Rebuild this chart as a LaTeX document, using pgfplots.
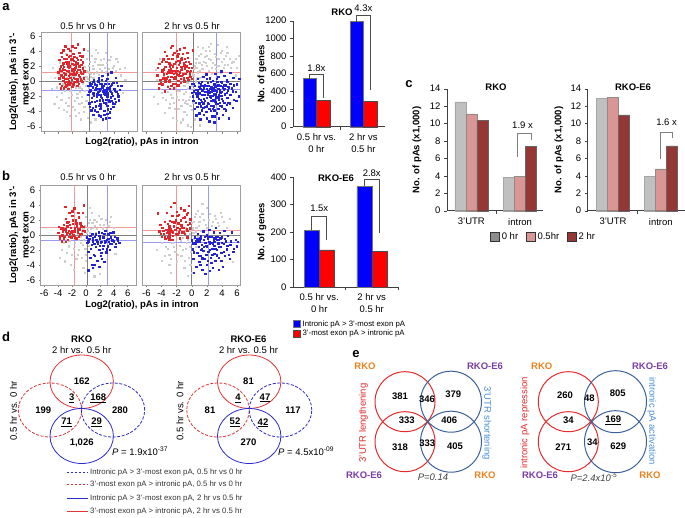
\documentclass[border=0pt]{standalone}
\usepackage{fontspec}
\setmainfont{Liberation Sans}
\usepackage{pgfplots}
\pgfplotsset{compat=1.18}
\definecolor{sred}{HTML}{E3262B}
\definecolor{sblue}{HTML}{2222D6}
\definecolor{sgray}{HTML}{CDCDCD}
\definecolor{lred}{HTML}{F29A9A}
\definecolor{lblue}{HTML}{9A9AF2}
\definecolor{cgray}{HTML}{C0C0C0}
\definecolor{cpink}{HTML}{D99694}
\definecolor{cdark}{HTML}{953735}
\definecolor{dred}{HTML}{E03535}
\definecolor{dblue}{HTML}{2C2CCC}
\definecolor{ered}{HTML}{E52A2A}
\definecolor{eblue}{HTML}{3C619B}
\definecolor{elblue}{HTML}{4A8FD6}
\definecolor{eorange}{HTML}{E8821E}
\definecolor{epurple}{HTML}{7A3EA6}
\pgfplotsset{
 /pgf/number format/assume math mode=true,
 /pgf/number format/1000 sep={},
 sc/.style={scale only axis, anchor=south west, width=96pt, height=99pt,
   xmin=-6.5, xmax=7.3, ymin=-6.66, ymax=6.4,
   xtick={-6,-4,...,6}, ytick={-6,-4,...,6},
   tick align=outside, tick pos=left, major tick length=2pt,
   tick style={gray, line width=0.4pt},
   axis line style={gray!75, line width=0.7pt},
   tick label style={font=\fontsize{9.5}{10}\selectfont},
   xticklabel style={yshift=1pt}},
 gpt/.style={only marks, mark=square*, mark size=0.6pt, color=sgray},
 rpt/.style={only marks, mark=square*, mark size=0.7pt, color=sred},
 bpt/.style={only marks, mark=square*, mark size=0.7pt, color=sblue},
 rl/.style={lred, line width=0.5pt},
 bl/.style={lblue, line width=0.5pt},
 gl/.style={gray, line width=0.5pt},
 br/.style={scale only axis, anchor=south west, ymin=0,
   axis x line*=bottom, axis y line*=left,
   axis line style={black!75, line width=0.6pt},
   tick align=outside, major tick length=3pt, tick style={black!75},
   xtick={0,1}, xtick style={draw=none},
   extra x ticks={0.5,1.5}, extra x tick labels={},
   extra x tick style={xtick style={draw=black!75}},
   xticklabel style={align=center, font=\fontsize{9.5}{12}\selectfont},
   yticklabel style={font=\fontsize{9.5}{10}\selectfont},
   clip=false},
}
\tikzset{T/.style={inner sep=0pt, font=\fontsize{9.5}{11}\selectfont},
 B/.style={inner sep=0pt, font=\fontsize{9.5}{12.5}\selectfont\bfseries},
 S/.style={inner sep=0pt, font=\fontsize{7.8}{9}\selectfont, text=black!80},
 L/.style={inner sep=0pt, font=\fontsize{13}{14}\selectfont\bfseries},
 brk/.style={gray!60!black, line width=0.7pt}}
\begin{document}
\begin{tikzpicture}
\path[use as bounding box] (0,0) rectangle (685pt,-517pt);

% ---------------- panel a scatter 1
\begin{axis}[sc, at={(41pt,-131.7pt)}, xticklabels={}]
\addplot[gpt] coordinates {(-5.0,-1.0)(-4.5,0.5)(-4.3,-2.0)(-4.0,-3.5)(-3.8,2.5)(-3.5,-1.5)(-3.0,-2.8)(-3.0,3.6)(-2.8,-4.0)(-2.5,-2.2)(-2.3,-1.2)(-2.0,-3.4)(-2.0,0.8)(-1.8,-0.6)(-1.6,-2.6)(-1.5,-4.5)(-1.3,-1.6)(-1.2,0.2)(-1.0,-0.8)(-1.0,-3.0)(-0.8,1.0)(-0.7,-2.0)(-0.5,-0.3)(-0.5,2.4)(-0.4,-4.0)(-0.3,0.6)(-0.2,-1.3)(0.0,1.4)(0.0,-2.6)(0.1,3.0)(0.2,0.3)(0.3,-0.8)(0.4,2.0)(0.5,-3.4)(0.6,1.0)(0.7,-0.3)(0.8,3.4)(1.0,1.6)(1.0,0.5)(1.2,2.6)(1.3,-5.0)(1.5,1.2)(1.6,3.8)(1.8,0.9)(2.0,2.2)(2.2,1.4)(2.5,3.0)(2.6,1.8)(3.0,2.4)(3.2,1.6)(3.5,3.2)(4.0,2.0)(4.2,1.4)(4.5,2.6)(5.0,0.8)(5.2,-1.5)(5.5,1.8)(-0.6,-1.0)(-1.4,-0.2)(0.4,-0.1)(-0.9,0.5)(0.9,-1.9)(-2.7,-0.8)(0.2,-4.8)(-3.2,-3.8)(1.4,4.2)(-0.2,0.1)(0.6,-0.6)(-1.6,0.7)(1.2,-0.2)(-0.3,1.9)(2.2,0.6)(-4.8,1.8)(-4.6,-3.0)(-4.2,-0.8)(-3.9,0.9)(-3.6,-2.4)(-3.3,-0.4)(-3.1,-1.2)(-2.8,0.4)(-2.6,-3.2)(-2.4,-4.6)(-2.1,-1.8)(-1.9,-0.2)(-1.7,-3.8)(-1.5,-0.8)(-1.3,-2.2)(-1.1,-4.2)(-0.9,-1.4)(-0.7,0.2)(-0.6,-2.8)(-0.4,1.2)(-0.3,-3.4)(-0.1,-0.6)(0.0,0.6)(0.1,-1.8)(0.3,1.2)(0.5,2.6)(0.7,0.6)(0.9,2.0)(1.1,1.0)(1.3,3.0)(1.6,2.2)(1.9,1.6)(2.1,2.8)(2.4,2.2)(2.8,1.2)(3.3,2.8)(3.8,1.8)(4.3,3.0)(4.8,1.6)(5.6,0.2)(0.6,-5.4)(-0.8,-5.0)(2.8,3.8)(0.2,4.0)};
\addplot[rl] coordinates {(-2.1,-6.66)(-2.1,6.4)};
\addplot[rl] coordinates {(-6.5,1.12)(7.3,1.12)};
\addplot[bl] coordinates {(3.0,-6.66)(3.0,6.4)};
\addplot[bl] coordinates {(-6.5,-1.16)(7.3,-1.16)};
\addplot[gl] coordinates {(0.5,-6.66)(0.5,6.4)};
\addplot[gl] coordinates {(-6.5,0)(7.3,0)};
\addplot[rpt] coordinates {(-4.0,1.2)(-3.9,0.4)(-3.8,-0.3)(-3.7,2.0)(-3.6,0.8)(-3.5,-0.6)(-3.4,1.6)(-3.3,0.1)(-3.3,2.4)(-3.2,-0.9)(-3.2,0.6)(-3.2,1.1)(-3.2,1.9)(-3.2,3.0)(-3.1,-0.2)(-3.0,4.6)(-3.0,0.9)(-2.9,2.6)(-2.9,-0.5)(-2.8,1.4)(-2.8,3.5)(-2.7,0.3)(-2.6,-1.0)(-2.6,2.1)(-2.5,0.0)(-2.5,0.7)(-2.5,1.3)(-2.5,1.8)(-2.5,2.5)(-2.5,3.2)(-2.4,-0.4)(-2.3,4.0)(-2.2,1.0)(-2.2,2.9)(-2.1,0.2)(-2.0,1.6)(-2.0,-0.7)(-1.9,3.6)(-1.8,0.5)(-1.8,1.2)(-1.8,2.2)(-1.8,2.7)(-1.7,-0.1)(-1.6,4.4)(-1.6,1.8)(-1.5,0.9)(-1.4,3.1)(-1.3,0.3)(-1.3,2.4)(-1.2,1.5)(-1.1,-0.3)(-1.0,2.0)(-1.0,3.8)(-0.9,0.6)(-0.8,1.2)(-0.8,2.8)(-0.7,0.1)(-0.6,3.3)(-0.5,1.7)(-0.4,0.4)(-1.5,2.5)(-1.2,4.9)(-2.6,4.3)(-3.5,3.2)(-2.0,2.3)(-3.0,0.3)(-2.3,0.5)(-1.4,0.0)(-3.6,1.4)(-2.8,-0.1)(-3.9,2.8)(-3.7,-0.9)(-3.6,3.8)(-3.4,0.5)(-3.4,2.2)(-3.1,1.5)(-3.0,-0.7)(-2.9,3.0)(-2.7,1.9)(-2.7,-0.4)(-2.4,2.0)(-2.4,0.9)(-2.3,3.4)(-2.2,-0.2)(-2.1,1.4)(-2.0,2.9)(-1.9,0.9)(-1.9,-0.4)(-1.7,1.6)(-1.7,3.2)(-1.6,0.3)(-1.5,2.1)(-1.4,1.2)(-1.3,-0.6)(-1.2,2.8)(-1.1,0.8)(-1.0,1.5)(-0.9,3.4)(-0.8,0.3)(-0.7,2.2)(-0.6,1.0)(-0.5,2.5)(-0.4,4.2)(-0.3,1.3)(-3.3,4.1)(-2.0,4.6)(-2.8,2.3)(-3.8,1.6)(-1.2,0.0)(-0.6,-0.1)};
\addplot[bpt] coordinates {(0.2,-0.6)(0.3,-1.8)(0.4,-2.9)(0.5,-0.2)(0.6,-1.2)(0.7,-3.8)(0.8,-2.2)(0.9,-0.8)(1.0,-1.6)(1.0,-4.4)(1.1,0.2)(1.2,-2.7)(1.3,-1.1)(1.4,-3.3)(1.5,-0.5)(1.5,-2.0)(1.6,-4.0)(1.7,-1.4)(1.8,0.4)(1.9,-2.5)(2.0,-0.3)(2.0,-1.0)(2.0,-1.8)(2.0,-3.0)(2.0,-3.6)(2.1,-4.6)(2.2,-2.2)(2.3,0.7)(2.4,-1.3)(2.5,-2.8)(2.5,-0.6)(2.6,-3.9)(2.7,-1.7)(2.8,0.1)(2.9,-2.4)(3.0,-0.9)(3.0,-1.5)(3.0,-2.0)(3.0,-3.2)(3.0,-4.3)(3.1,0.9)(3.2,-0.3)(3.3,-2.7)(3.4,-1.2)(3.5,-3.6)(3.5,-0.6)(3.5,-2.1)(3.6,1.2)(3.7,-1.6)(3.8,-2.9)(3.9,-0.2)(4.0,-1.0)(4.0,-3.0)(4.1,-2.3)(4.2,0.5)(4.3,-1.4)(4.5,-0.6)(4.6,-2.0)(4.8,-1.1)(3.3,-4.8)(2.4,-5.0)(1.8,-3.2)(1.2,-0.4)(0.9,-3.5)(2.8,-4.9)(1.6,-1.0)(2.2,-0.4)(3.4,-0.8)(2.6,-1.2)(0.6,-0.5)(0.4,-1.4)(0.5,-3.4)(0.7,-0.3)(0.8,-2.7)(1.0,-0.1)(1.1,-1.9)(1.2,-3.8)(1.4,-0.9)(1.5,-2.6)(1.6,-1.7)(1.7,0.0)(1.8,-4.5)(1.9,-1.2)(2.1,-2.0)(2.1,-3.3)(2.2,0.2)(2.3,-0.8)(2.4,-2.5)(2.5,-1.6)(2.6,-4.4)(2.7,-0.3)(2.8,-2.9)(2.9,-1.3)(3.0,0.3)(3.1,-1.8)(3.1,-3.7)(3.2,-2.4)(3.3,-0.9)(3.4,-4.1)(3.5,-1.4)(3.6,-2.6)(3.7,-0.4)(3.8,-1.9)(3.9,-3.4)(4.1,-1.2)(4.2,-2.7)(4.4,-0.2)(4.5,-1.7)(4.7,-2.5)(5.0,-0.6)};
\end{axis}

% ---------------- panel a scatter 2
\begin{axis}[sc, at={(142.7pt,-131.7pt)}, width=97.3pt, xmax=6.4, xticklabels={}, ytick=\empty]
\addplot[gpt] coordinates {(-5.0,-2.0)(-4.8,1.5)(-4.5,-3.0)(-4.2,3.0)(-4.0,-1.5)(-3.6,-4.2)(-3.4,-2.4)(-3.0,-3.5)(-2.8,-1.8)(-2.5,-4.8)(-2.4,-2.8)(-2.0,-2.0)(-1.8,-3.6)(-1.6,-1.2)(-1.5,-5.4)(-1.2,-2.4)(-1.0,-4.0)(-0.8,-1.4)(-0.6,-3.0)(-0.5,-5.8)(-0.3,-2.0)(-0.2,0.2)(0.0,-3.8)(0.1,1.0)(0.3,-1.0)(0.4,2.0)(0.5,0.0)(0.6,3.0)(0.8,1.2)(1.0,2.4)(1.0,0.5)(1.2,3.6)(1.4,1.6)(1.5,4.4)(1.6,2.6)(1.8,1.0)(2.0,3.4)(2.0,2.0)(2.2,1.4)(2.4,4.0)(2.5,2.8)(2.7,1.8)(3.0,3.6)(3.0,2.2)(3.2,1.6)(3.5,3.0)(3.6,2.0)(4.0,4.0)(4.0,2.6)(4.2,1.8)(4.5,3.4)(4.8,2.2)(5.0,3.0)(5.2,1.8)(5.5,2.6)(6.0,1.8)(6.2,3.4)(-0.4,0.6)(-1.0,-0.6)(-1.4,0.3)(-2.2,-0.8)(0.2,-0.4)(-0.6,-0.2)(0.9,-0.4)(-0.1,-6.0)(1.1,-5.8)(-2.0,-5.2)(2.5,5.0)(3.4,4.8)(-3.2,-0.6)(4.6,4.6)(0.6,1.8)(1.4,0.6)(2.6,1.0)(-0.8,-2.6)(0.2,-2.8)(3.8,1.2)(5.8,0.8)(-4.6,0.2)(-4.3,-1.0)(-3.9,-2.2)(-3.7,0.6)(-3.2,-1.4)(-2.9,-3.0)(-2.6,-2.2)(-2.3,-3.6)(-1.9,-1.2)(-1.7,-2.4)(-1.4,-3.2)(-1.1,-1.6)(-0.9,-2.8)(-0.7,-4.4)(-0.5,-1.0)(-0.4,-2.4)(-0.2,-3.2)(0.0,-0.6)(0.2,0.8)(0.3,1.6)(0.5,2.4)(0.7,0.4)(0.9,3.4)(1.1,1.4)(1.3,2.2)(1.7,3.2)(1.9,2.4)(2.2,3.0)(2.3,4.6)(2.8,2.4)(3.2,3.2)(3.3,2.0)(3.8,3.8)(4.2,3.0)(4.4,2.2)(4.7,3.8)(5.3,2.4)(5.8,3.0)(0.4,-5.0)(-1.2,-5.0)(0.8,4.6)(1.8,4.0)};
\addplot[rl] coordinates {(-2.1,-6.66)(-2.1,6.4)};
\addplot[rl] coordinates {(-6.5,1.17)(6.4,1.17)};
\addplot[bl] coordinates {(3.2,-6.66)(3.2,6.4)};
\addplot[bl] coordinates {(-6.5,-1.07)(6.4,-1.07)};
\addplot[gl] coordinates {(0.2,-6.66)(0.2,6.4)};
\addplot[gl] coordinates {(-6.5,0)(6.4,0)};
\addplot[rpt] coordinates {(-4.6,0.8)(-4.4,-0.9)(-4.3,2.3)(-4.2,0.2)(-4.0,1.5)(-3.9,-0.4)(-3.8,2.9)(-3.7,0.9)(-3.6,-1.3)(-3.5,1.9)(-3.4,0.4)(-3.3,3.4)(-3.2,-0.7)(-3.1,1.2)(-3.0,2.4)(-3.0,0.0)(-2.9,-1.0)(-2.8,1.6)(-2.8,4.4)(-2.7,0.6)(-2.6,3.0)(-2.5,-0.3)(-2.5,2.0)(-2.4,1.0)(-2.3,3.8)(-2.2,0.3)(-2.2,1.4)(-2.1,2.6)(-2.0,-0.6)(-2.0,0.9)(-2.0,1.8)(-1.9,3.3)(-1.8,0.1)(-1.7,2.2)(-1.6,1.2)(-1.6,4.2)(-1.5,-0.2)(-1.4,0.7)(-1.4,2.9)(-1.3,1.6)(-1.2,3.6)(-1.1,0.4)(-1.0,2.1)(-1.0,1.0)(-0.9,-0.1)(-0.8,2.6)(-0.7,1.3)(-0.6,0.5)(-0.5,3.1)(-0.4,1.8)(-0.3,0.8)(-0.2,2.3)(-0.1,1.4)(0.0,0.3)(0.1,4.1)(-3.6,3.9)(-2.6,4.7)(-1.0,4.4)(-3.9,1.3)(-0.6,3.8)(-2.4,-0.9)(-4.1,-0.2)(-1.8,2.7)(-2.9,2.0)(-3.3,1.0)(-0.9,1.7)(-2.2,0.6)(-1.5,1.5)(-2.7,1.2)(-0.4,0.2)(-4.5,1.8)(-4.3,-0.3)(-4.0,2.6)(-3.8,0.4)(-3.7,1.6)(-3.5,0.0)(-3.4,2.6)(-3.2,0.6)(-3.1,3.0)(-2.9,0.2)(-2.8,2.2)(-2.7,-0.6)(-2.6,1.4)(-2.5,3.5)(-2.4,0.4)(-2.3,2.3)(-2.2,-0.3)(-2.1,1.1)(-2.0,4.0)(-1.9,1.4)(-1.8,-0.5)(-1.7,0.8)(-1.6,2.5)(-1.5,0.3)(-1.4,1.9)(-1.3,3.1)(-1.2,0.9)(-1.1,2.4)(-1.0,0.0)(-0.9,3.0)(-0.8,1.0)(-0.7,2.0)(-0.6,1.4)(-0.5,0.2)(-0.4,2.6)(-0.3,1.2)(-0.2,0.6)(0.0,1.8)(-3.0,1.5)(-1.8,3.6)};
\addplot[bpt] coordinates {(-0.3,-0.8)(0.0,-1.5)(0.2,-2.6)(0.3,-0.3)(0.4,-3.6)(0.5,-1.1)(0.6,-4.5)(0.7,-2.0)(0.8,0.3)(0.9,-3.0)(1.0,-0.7)(1.0,-1.6)(1.1,-5.0)(1.2,-2.4)(1.3,-0.1)(1.3,-3.8)(1.4,-1.2)(1.5,0.6)(1.5,-2.9)(1.6,-4.4)(1.7,-0.5)(1.7,-1.8)(1.8,-3.4)(1.9,0.9)(2.0,-1.0)(2.0,-2.2)(2.0,-4.9)(2.1,-0.2)(2.2,-3.0)(2.3,-1.5)(2.3,-5.3)(2.4,0.4)(2.5,-2.6)(2.5,-3.9)(2.6,-0.8)(2.7,-1.9)(2.7,-4.6)(2.8,0.1)(2.9,-3.3)(3.0,-1.2)(3.0,-2.4)(3.0,-0.4)(3.0,-5.4)(3.1,1.0)(3.2,-3.0)(3.2,-1.7)(3.3,-4.2)(3.4,-0.1)(3.5,-2.1)(3.5,-1.0)(3.5,-3.6)(3.5,0.6)(3.6,-4.9)(3.7,-2.8)(3.8,-0.6)(3.8,-1.5)(3.9,1.3)(4.0,-2.3)(4.0,-3.3)(4.0,-0.2)(4.1,-4.4)(4.2,-1.1)(4.3,0.7)(4.3,-2.8)(4.4,-1.7)(4.5,-0.5)(4.5,-3.8)(4.6,0.2)(4.7,-2.2)(4.8,-1.2)(4.9,-4.9)(5.0,-0.3)(5.0,-2.9)(5.1,1.1)(5.2,-1.8)(5.3,-0.9)(5.4,-3.5)(5.5,0.5)(5.6,-2.4)(5.8,-1.4)(6.0,-0.4)(6.2,-2.0)(6.3,0.3)(0.8,-1.2)(1.8,-0.6)(2.9,-0.9)(3.9,-1.9)(2.2,-1.3)(1.2,-3.3)(4.6,-3.1)(3.1,-2.7)(2.6,-1.4)(4.1,-0.8)(1.6,-2.3)(3.6,-1.8)(2.4,-2.0)(3.3,-0.6)(1.4,-0.6)(4.8,-0.7)(2.8,-3.6)(0.0,-0.3)(0.1,-2.0)(0.3,-1.3)(0.4,-0.6)(0.5,-2.8)(0.6,-1.6)(0.7,-3.4)(0.9,-0.2)(0.9,-2.3)(1.0,-4.2)(1.1,-1.0)(1.2,-0.4)(1.3,-2.7)(1.4,-1.8)(1.5,-3.5)(1.6,-0.9)(1.7,-2.6)(1.8,-1.4)(1.9,-4.0)(2.0,0.3)(2.1,-1.7)(2.1,-2.8)(2.2,-0.6)(2.3,-3.6)(2.4,-1.0)(2.5,-0.1)(2.5,-2.2)(2.6,-3.2)(2.7,-1.1)(2.8,-2.5)(2.9,-0.4)(2.9,-1.7)(3.0,-3.8)(3.1,-0.7)(3.2,-2.1)(3.3,-1.3)(3.3,0.3)(3.4,-3.0)(3.5,-0.5)(3.6,-2.4)(3.7,-1.2)(3.8,-3.2)(3.9,-0.1)(4.0,-1.4)(4.1,-2.6)(4.2,-0.5)(4.3,-3.6)(4.4,-1.0)(4.6,-1.5)(4.7,-0.1)(4.8,-2.8)(4.9,-0.8)(5.0,-1.8)(5.2,-0.3)(5.4,-1.3)(5.6,-0.5)(5.9,-2.6)(1.0,-2.9)(2.0,-3.3)(3.0,-4.6)};
\end{axis}

% ---------------- panel b scatter 1
\begin{axis}[sc, at={(40.7pt,-285pt)}, height=100pt, ymin=-6.67, ymax=6.67]
\addplot[gpt] coordinates {(-3.5,-2.0)(-3.0,-3.5)(-2.5,-1.5)(-2.2,-4.0)(-2.0,-2.6)(-1.6,-1.0)(-1.4,-3.2)(-1.0,-0.6)(-1.0,-2.0)(-0.6,0.4)(-0.5,-1.3)(-0.4,-4.4)(-0.2,1.2)(0.0,-0.4)(0.0,-2.6)(0.0,2.4)(0.2,0.6)(0.4,1.6)(0.6,0.3)(0.8,3.0)(1.0,1.0)(1.2,2.0)(1.5,0.8)(1.8,2.6)(2.0,1.4)(2.4,0.9)(2.8,2.0)(3.2,1.2)(3.6,2.4)(4.0,1.0)(-0.8,-0.2)(0.4,-1.4)(-1.8,0.3)(1.2,-5.5)(-0.2,-5.0)(-3.8,-3.0)(4.2,-2.5)(2.0,-5.2)(-1.2,0.2)(0.6,-0.6)(-0.4,0.9)(1.4,0.3)(-3.2,-1.0)(-2.8,-2.4)(-2.4,-0.8)(-1.8,-1.8)(-1.3,-0.4)(-1.2,-2.6)(-0.7,-1.0)(-0.3,-0.6)(-0.1,-1.8)(0.1,0.3)(0.3,1.0)(0.5,2.0)(0.7,0.8)(0.9,1.6)(1.3,1.2)(1.6,1.8)(2.2,2.2)(2.6,1.4)(3.0,0.8)(3.4,1.8)(0.0,-3.4)(-0.6,-3.0)(0.6,3.6)(-1.8,-4.6)};
\addplot[rl] coordinates {(-1.7,-6.67)(-1.7,6.67)};
\addplot[rl] coordinates {(-6.5,1.1)(7.3,1.1)};
\addplot[bl] coordinates {(3.0,-6.67)(3.0,6.67)};
\addplot[bl] coordinates {(-6.5,-0.76)(7.3,-0.76)};
\addplot[gl] coordinates {(0.2,-6.67)(0.2,6.67)};
\addplot[gl] coordinates {(-6.5,0)(7.3,0)};
\addplot[rpt] coordinates {(-4.0,0.3)(-3.8,-0.4)(-3.6,0.9)(-3.5,-0.8)(-3.3,0.5)(-3.2,1.4)(-3.1,-0.2)(-3.0,0.8)(-2.9,2.2)(-2.8,0.1)(-2.7,1.2)(-2.6,-0.6)(-2.5,0.6)(-2.5,1.8)(-2.4,3.0)(-2.3,0.2)(-2.2,1.0)(-2.1,-0.3)(-2.0,2.6)(-2.0,0.6)(-1.9,1.5)(-1.8,0.0)(-1.7,3.6)(-1.6,0.9)(-1.5,2.0)(-1.4,-0.4)(-1.3,1.2)(-1.2,0.4)(-1.0,2.4)(-0.9,0.8)(-0.8,1.6)(-0.6,0.2)(-0.5,3.0)(-0.4,1.1)(-0.2,0.5)(-3.0,3.8)(-2.9,-0.9)(-1.0,-0.2)(-3.4,0.0)(-0.3,4.0)(-3.9,1.1)(-3.7,-0.1)(-3.4,0.9)(-3.2,-0.5)(-2.9,0.5)(-2.7,1.7)(-2.6,0.3)(-2.4,-0.2)(-2.3,1.4)(-2.1,0.4)(-1.9,2.0)(-1.7,0.5)(-1.6,-0.3)(-1.4,1.6)(-1.2,0.8)(-1.1,3.0)(-0.9,0.1)(-0.7,1.2)(-0.5,0.6)(-2.0,3.2)};
\addplot[bpt] coordinates {(0.1,-0.3)(0.2,-1.0)(0.3,-2.2)(0.5,-0.5)(0.6,-3.0)(0.8,-1.3)(0.9,0.2)(1.0,-0.8)(1.1,-2.6)(1.2,-4.0)(1.3,-0.2)(1.4,-1.6)(1.5,-0.6)(1.6,-3.4)(1.7,-1.1)(1.8,0.4)(1.9,-2.0)(2.0,-0.4)(2.0,-1.4)(2.1,-2.8)(2.2,-0.9)(2.3,0.3)(2.4,-1.8)(2.5,-0.3)(2.6,-3.6)(2.7,-1.0)(2.8,0.6)(2.9,-2.3)(3.0,-0.6)(3.1,-1.5)(3.2,0.1)(3.3,-0.9)(3.4,-2.0)(3.6,-0.3)(3.7,-1.2)(3.9,0.4)(4.0,-0.8)(4.2,-1.6)(4.5,-0.4)(4.8,-1.0)(0.9,-4.0)(0.3,-4.7)(1.9,-4.2)(0.3,-0.8)(0.6,-0.1)(0.7,-1.8)(1.0,-0.4)(1.2,-1.2)(1.4,0.1)(1.6,-0.9)(1.9,-0.1)(2.1,-1.0)(2.2,-2.4)(2.5,-1.4)(2.6,0.2)(2.8,-0.8)(3.0,-1.9)(3.2,-0.5)(3.4,-1.2)(3.5,0.3)(3.8,-0.7)(4.1,-0.2)(4.3,-1.2)(4.6,-0.7)(2.3,-3.2)(1.3,-2.8)(1.0,-4.4)};
\end{axis}

% ---------------- panel b scatter 2
\begin{axis}[sc, at={(142.7pt,-285pt)}, height=100pt, width=97.3pt, ymin=-6.67, ymax=6.67, xmax=6.4, ytick=\empty]
\addplot[gpt] coordinates {(-4.6,-2.0)(-4.0,-3.4)(-3.5,-1.6)(-3.0,-2.6)(-3.0,-4.0)(-2.6,-1.0)(-2.2,-2.2)(-2.0,-3.6)(-1.6,-1.4)(-1.4,-2.8)(-1.2,-0.4)(-1.0,-4.4)(-0.8,-1.8)(-0.6,-0.2)(-0.4,-3.0)(-0.2,0.6)(0.0,-1.0)(0.0,1.6)(0.0,-5.0)(0.2,0.3)(0.4,2.4)(0.6,1.0)(0.8,3.2)(1.0,1.8)(1.2,0.6)(1.4,2.8)(1.8,1.4)(2.0,3.6)(2.2,2.0)(2.6,1.2)(3.0,2.6)(3.4,1.6)(3.8,3.0)(4.2,1.8)(4.6,1.0)(5.0,2.2)(-0.5,-0.6)(-1.8,0.2)(0.3,-0.5)(-0.8,0.9)(0.8,-0.3)(-2.8,-5.0)(5.4,-3.6)(1.4,4.2)(-0.1,-2.2)(-0.3,0.1)(0.5,0.5)(-1.0,0.4)(-4.0,-1.0)(-3.6,-2.8)(-3.2,-1.8)(-2.8,-3.2)(-2.4,-1.6)(-1.9,-2.6)(-1.5,-0.8)(-1.2,-2.0)(-0.9,-3.4)(-0.7,-1.0)(-0.3,-1.6)(-0.2,-4.0)(0.1,0.9)(0.3,1.8)(0.5,2.8)(0.9,1.2)(1.1,2.4)(1.6,2.0)(2.0,1.0)(2.4,2.8)(2.8,1.8)(3.2,2.2)(3.6,1.2)(4.0,2.4)(0.6,-1.6)(-0.5,-5.4)};
\addplot[rl] coordinates {(-2.1,-6.67)(-2.1,6.67)};
\addplot[rl] coordinates {(-6.5,0.67)(6.4,0.67)};
\addplot[bl] coordinates {(2.2,-6.67)(2.2,6.67)};
\addplot[bl] coordinates {(-6.5,-0.93)(6.4,-0.93)};
\addplot[gl] coordinates {(0,-6.67)(0,6.67)};
\addplot[gl] coordinates {(-6.5,0)(6.4,0)};
\addplot[rpt] coordinates {(-4.5,2.9)(-4.3,0.5)(-4.0,-0.2)(-3.9,1.0)(-3.7,0.2)(-3.5,-0.5)(-3.4,0.7)(-3.2,1.5)(-3.1,-0.3)(-3.0,0.3)(-3.0,0.9)(-3.0,-0.6)(-2.9,1.9)(-2.8,3.8)(-2.7,0.5)(-2.6,2.6)(-2.5,-0.1)(-2.4,1.2)(-2.3,4.3)(-2.2,0.7)(-2.1,2.0)(-2.0,3.1)(-1.9,0.1)(-1.8,1.6)(-1.7,2.7)(-1.6,0.8)(-1.5,3.6)(-1.4,1.3)(-1.3,0.4)(-1.2,2.3)(-1.1,1.0)(-1.0,3.3)(-0.9,0.2)(-0.8,1.8)(-0.7,2.8)(-0.6,0.6)(-0.5,1.4)(-0.4,3.9)(-0.3,0.9)(-0.2,2.1)(-3.6,1.8)(-3.3,3.0)(-2.6,-0.6)(-1.6,-0.4)(-0.6,-0.3)(-4.2,1.4)(-4.1,0.2)(-3.8,0.6)(-3.6,-0.2)(-3.3,0.3)(-3.1,0.6)(-3.0,0.0)(-3.0,1.2)(-2.9,-0.3)(-2.8,0.8)(-2.5,0.4)(-2.3,1.7)(-2.1,0.2)(-1.9,1.0)(-1.7,0.4)(-1.5,2.0)(-1.3,1.0)(-1.1,0.4)(-0.9,2.4)(-0.7,0.8)(-0.5,3.0)(-0.3,1.6)(-1.9,2.6)(-2.6,1.8)};
\addplot[bpt] coordinates {(0.0,-0.7)(0.1,-1.9)(0.2,-3.2)(0.4,-0.3)(0.5,-1.2)(0.6,-4.2)(0.7,-2.4)(0.8,0.2)(0.9,-1.6)(1.0,-3.6)(1.0,-0.8)(1.1,-2.8)(1.2,-0.1)(1.3,-1.3)(1.4,-4.6)(1.5,-2.1)(1.5,0.5)(1.6,-0.6)(1.7,-3.2)(1.8,-1.0)(1.9,-2.6)(2.0,0.0)(2.0,-1.6)(2.0,-4.0)(2.1,-0.5)(2.2,-2.2)(2.3,0.7)(2.4,-1.2)(2.5,-3.0)(2.6,-0.2)(2.7,-1.8)(2.8,-4.4)(2.9,0.4)(3.0,-0.9)(3.0,-2.5)(3.0,-0.4)(3.0,-1.4)(3.1,-3.4)(3.2,1.0)(3.3,-2.0)(3.4,-0.6)(3.5,-1.1)(3.6,-3.0)(3.7,0.3)(3.8,-1.6)(3.9,-2.4)(4.0,-0.3)(4.1,-4.2)(4.2,-1.2)(4.3,0.6)(4.4,-2.8)(4.5,-0.8)(4.6,-1.9)(4.8,-0.1)(5.0,-3.2)(5.1,-1.3)(5.3,0.4)(5.5,-2.2)(5.8,-0.6)(6.0,-1.5)(0.3,-5.0)(1.8,-5.2)(2.6,-3.7)(3.6,-4.6)(1.2,-2.0)(2.3,-0.9)(0.7,-0.5)(1.6,-1.6)(3.4,-0.2)(2.8,-1.2)(0.2,-1.1)(0.3,-2.3)(0.6,-0.8)(0.9,-2.8)(1.1,-0.4)(1.3,-1.9)(1.4,-3.1)(1.7,-0.2)(1.9,-1.4)(2.1,-3.4)(2.2,-0.2)(2.4,-2.0)(2.6,-1.0)(2.7,-2.6)(2.9,-0.6)(3.1,-1.8)(3.2,-0.3)(3.3,-2.7)(3.5,-0.6)(3.6,-1.6)(3.8,-0.4)(3.9,-3.4)(4.0,-1.0)(4.2,-2.2)(4.4,-0.5)(4.7,-1.4)(4.9,-2.6)(5.2,-0.8)(5.6,-1.8)(6.1,-0.9)(2.4,-4.8)(1.1,-4.0)};
\end{axis}

% scatter labels
\node[T] at (88pt,-26pt) {0.5 hr vs 0 hr};
\node[T] at (192pt,-26pt) {2 hr vs 0.5 hr};
\node[T] at (88pt,-177pt) {0.5 hr vs 0 hr};
\node[T] at (192pt,-177pt) {2 hr vs 0.5 hr};
\node[B, rotate=90, align=center] at (19pt,-82pt) {Log2(ratio), pAs in 3'-\\most exon};
\node[B, rotate=90, align=center] at (19pt,-235pt) {Log2(ratio), pAs in 3'-\\most exon};
\node[B] at (142pt,-142.5pt) {Log2(ratio), pAs in intron};
\node[B] at (142pt,-305pt) {Log2(ratio), pAs in intron};
\node[L] at (6pt,-7pt) {a};
\node[L] at (6pt,-176pt) {b};
\node[L] at (409pt,-84pt) {c};
\node[L] at (6pt,-337pt) {d};
\node[L] at (356pt,-354pt) {e};

% ---------------- panel a bars
\begin{axis}[br, at={(293pt,-126.7pt)}, width=92pt, height=106pt,
  ybar=0pt, bar width=13.4pt, xmin=-0.5, xmax=1.46, ymax=1200, ytick={0,200,...,1200},
  xticklabels={{0.5 hr vs.\\0 hr},{2 hr vs\\0.5 hr}}]
\addplot[fill=blue, draw=black!55, line width=0.4pt] coordinates {(0,545) (1,1190)};
\addplot[fill=red, draw=black!70, line width=0.4pt] coordinates {(0,295) (1,285)};
\draw[brk] (axis cs:-0.143,545) -- (axis cs:-0.143,595) -- (axis cs:0.143,595) -- (axis cs:0.143,330);
\draw[brk] (axis cs:0.857,1190) -- (axis cs:0.857,1255) -- (axis cs:1.143,1255) -- (axis cs:1.143,410);
\node[T] at (axis cs:0,660) {1.8x};
\node[T] at (axis cs:1,1340) {4.3x};
\end{axis}
\node[B] at (342pt,-12pt) {RKO};
\node[B, rotate=90] at (262pt,-74pt) {No. of genes};

% ---------------- panel b bars
\begin{axis}[br, at={(293pt,-287pt)}, width=105pt, height=110pt,
  ybar=0pt, bar width=15pt, xmin=-0.5, xmax=1.5, ymax=400, ytick={0,100,...,400},
  xticklabels={{0.5 hr vs.\\0 hr},{2 hr vs\\0.5 hr}},
  every axis plot post/.append style={legend image code/.code={\draw[#1] (0pt,-3pt) rectangle (7pt,4pt);}},
  legend style={at={(0.0,-0.29)}, anchor=north west, draw=none, fill=none,
    font=\fontsize{7.8}{8}\selectfont, inner sep=0pt, row sep=-2pt,
    /tikz/every even column/.append style={column sep=2pt}},
  legend cell align=left]
\addplot[fill=blue, draw=black!55, line width=0.4pt] coordinates {(0,205) (1,365)};
\addplot[fill=red, draw=black!70, line width=0.4pt] coordinates {(0,135) (1,130)};
\legend{Intronic pA > 3'-most exon pA, 3'-most exon pA > intronic pA}
\draw[brk] (axis cs:-0.143,207) -- (axis cs:-0.143,258) -- (axis cs:0.143,258) -- (axis cs:0.143,172);
\draw[brk] (axis cs:0.857,367) -- (axis cs:0.857,392) -- (axis cs:1.143,392) -- (axis cs:1.143,195);
\node[T] at (axis cs:0,285) {1.5x};
\node[T] at (axis cs:1,414) {2.8x};
\end{axis}
\node[B] at (336pt,-178pt) {RKO-E6};
\node[B, rotate=90] at (262pt,-232pt) {No. of genes};

% ---------------- panel c RKO
\begin{axis}[br, at={(447pt,-210.7pt)}, width=96pt, height=122pt,
  ybar=0pt, bar width=11pt, xmin=-0.5, xmax=1.47, ymax=14, ytick={0,2,...,14},
  xticklabels={3'UTR, intron},
  xticklabel style={yshift=-1pt},
  every axis plot post/.append style={legend image code/.code={\draw[#1, draw=black!80] (0pt,-4pt) rectangle (9pt,5pt);}},
  legend columns=3,
  legend style={at={(0.45,-0.165)}, anchor=north west, draw=none, fill=none,
    font=\fontsize{9.5}{10}\selectfont, inner sep=0pt,
    /tikz/every even column/.append style={column sep=6pt}}]
\addplot[fill=cgray, draw=black!35, line width=0.4pt, legend image post style={fill=black!45}] coordinates {(0,12.5) (1,3.8)};
\addplot[fill=cpink, draw=black!45, line width=0.4pt] coordinates {(0,11.1) (1,3.95)};
\addplot[fill=cdark, draw=black!60, line width=0.4pt] coordinates {(0,10.4) (1,7.4)};
\legend{0 hr, 0.5hr, 2 hr}
\draw[brk, gray] (axis cs:0.95,6.2) -- (axis cs:0.95,8.85) -- (axis cs:1.226,8.85) -- (axis cs:1.226,8.1);
\node[T] at (axis cs:1.05,9.8) {1.9 x};
\end{axis}
\node[B] at (496pt,-87pt) {RKO};
\node[B, rotate=90] at (417pt,-150pt) {No. of pAs (x1,000)};

% ---------------- panel c RKO-E6
\begin{axis}[br, at={(587.7pt,-210.7pt)}, width=97pt, height=122pt,
  ybar=0pt, bar width=11pt, xmin=-0.53, xmax=1.5, ymax=14, ytick={0,2,...,14},
  xticklabels={3'UTR, intron},
  xticklabel style={yshift=-1pt}]
\addplot[fill=cgray, draw=black!35, line width=0.4pt] coordinates {(0,12.9) (1,3.95)};
\addplot[fill=cpink, draw=black!45, line width=0.4pt] coordinates {(0,13.0) (1,4.8)};
\addplot[fill=cdark, draw=black!60, line width=0.4pt] coordinates {(0,11.0) (1,7.45)};
\draw[brk, gray] (axis cs:1.0,5.9) -- (axis cs:1.0,9.0) -- (axis cs:1.232,9.0) -- (axis cs:1.232,8.4);
\node[T] at (axis cs:1.12,10.1) {1.6 x};
\end{axis}
\node[B] at (633pt,-87pt) {RKO-E6};
\node[B, rotate=90] at (559pt,-150pt) {No. of pAs (x1,000)};

% ---------------- panel d Venn
\begin{scope}[line width=0.8pt]
\draw[dred, dash pattern=on 3pt off 1.6pt] (50pt,-410pt) ellipse [x radius=31.7pt, y radius=27pt];
\draw[dblue, dash pattern=on 3pt off 1.6pt] (113pt,-410pt) ellipse [x radius=31.7pt, y radius=27pt];
\draw[dred] (81.7pt,-381.7pt) ellipse [x radius=31.7pt, y radius=26.7pt];
\draw[dblue] (81.7pt,-436pt) ellipse [x radius=31.7pt, y radius=27.5pt];
\draw[dred, dash pattern=on 3pt off 1.6pt] (218pt,-410pt) ellipse [x radius=31.3pt, y radius=27pt];
\draw[dblue, dash pattern=on 3pt off 1.6pt] (280.5pt,-410pt) ellipse [x radius=31.3pt, y radius=27pt];
\draw[dred] (249.2pt,-381.7pt) ellipse [x radius=31.7pt, y radius=26.7pt];
\draw[dblue] (249.2pt,-436pt) ellipse [x radius=31.7pt, y radius=27.5pt];
\end{scope}
\node[B] at (81.7pt,-339pt) {RKO};
\node[T] at (81.7pt,-350.5pt) {2 hr vs. 0.5 hr};
\node[B] at (248.5pt,-339pt) {RKO-E6};
\node[T] at (248.5pt,-350.5pt) {2 hr vs. 0.5 hr};
\node[T, rotate=90] at (13.5pt,-411pt) {0.5 hr vs. 0 hr};
\node[T, rotate=90] at (180pt,-411pt) {0.5 hr vs. 0 hr};
\node[B] at (81.7pt,-381pt) {162};
\node[B] at (71.7pt,-398.3pt) {\underline{3}};
\node[B] at (98.3pt,-398pt) {\underline{168}};
\node[B] at (43.3pt,-410.7pt) {199};
\node[B] at (120pt,-410.7pt) {280};
\node[B] at (66.7pt,-422.7pt) {\underline{71}};
\node[B] at (96.7pt,-422.7pt) {\underline{29}};
\node[B] at (81.7pt,-442.7pt) {1,026};
\node[B] at (248.5pt,-381pt) {81};
\node[B] at (238pt,-398.3pt) {\underline{4}};
\node[B] at (265pt,-398pt) {\underline{47}};
\node[B] at (210pt,-410.7pt) {81};
\node[B] at (293pt,-410.7pt) {117};
\node[B] at (235pt,-422.7pt) {\underline{52}};
\node[B] at (263pt,-422.7pt) {\underline{42}};
\node[B] at (248.5pt,-442.7pt) {270};
\node[T, anchor=west] at (112pt,-451.5pt) {\textit{P} = 1.9x10\textsuperscript{-37}};
\node[T, anchor=west] at (278pt,-451.5pt) {\textit{P} = 4.5x10\textsuperscript{-09}};
\draw[dblue, line width=0.9pt, dash pattern=on 2.5pt off 1.5pt] (66.7pt,-472.3pt) -- (87.5pt,-472.3pt);
\draw[dred, line width=0.9pt, dash pattern=on 2.5pt off 1.5pt] (66.7pt,-484.6pt) -- (87.5pt,-484.6pt);
\draw[dblue, line width=0.9pt] (66.7pt,-498.3pt) -- (87.5pt,-498.3pt);
\draw[dred, line width=0.9pt] (66.7pt,-511pt) -- (87.5pt,-511pt);
\node[S, anchor=west] at (90pt,-472.3pt) {Intronic pA > 3'-most exon pA, 0.5 hr vs 0 hr};
\node[S, anchor=west] at (90pt,-484.6pt) {3'-most exon pA > intronic pA, 0.5 hr vs 0 hr};
\node[S, anchor=west] at (90pt,-498.3pt) {Intronic pA > 3'-most exon pA, 2 hr vs 0.5 hr};
\node[S, anchor=west] at (90pt,-511pt) {3'-most exon pA > intronic pA, 2 hr vs 0.5 hr};

% ---------------- panel e Venn
\begin{scope}[line width=1pt]
\draw[ered] (405pt,-401.7pt) circle [radius=30pt];
\draw[ered] (405pt,-441.7pt) circle [radius=30pt];
\draw[eblue] (451pt,-401.7pt) circle [radius=30.5pt];
\draw[eblue] (451pt,-441.7pt) circle [radius=30.5pt];
\draw[ered] (568.3pt,-401.7pt) circle [radius=30pt];
\draw[ered] (568.3pt,-441.7pt) circle [radius=30pt];
\draw[eblue] (615.5pt,-401.7pt) circle [radius=31pt];
\draw[eblue] (615.5pt,-441.7pt) circle [radius=31pt];
\end{scope}
\node[B] at (400pt,-396pt) {381};
\node[B] at (427pt,-399.3pt) {346};
\node[B] at (453.3pt,-394pt) {379};
\node[B] at (406.7pt,-420.7pt) {333};
\node[B] at (449.3pt,-420.7pt) {406};
\node[B] at (400pt,-447.3pt) {318};
\node[B] at (427.3pt,-443.3pt) {333};
\node[B] at (455pt,-446.7pt) {405};
\node[B] at (565pt,-395pt) {260};
\node[B] at (589.3pt,-398pt) {48};
\node[B] at (617.7pt,-393pt) {805};
\node[B] at (568.3pt,-420.7pt) {34};
\node[B] at (613.3pt,-420.7pt) {\underline{169}};
\node[B] at (563.3pt,-447.3pt) {271};
\node[B] at (592.3pt,-442.7pt) {34};
\node[B] at (618.3pt,-446.7pt) {629};
\node[B, text=eorange] at (365pt,-366.7pt) {RKO};
\node[B, text=epurple] at (485pt,-366.7pt) {RKO-E6};
\node[B, text=epurple] at (364pt,-475pt) {RKO-E6};
\node[B, text=eorange] at (485pt,-475pt) {RKO};
\node[T, text=black!75] at (433pt,-477.5pt) {\textit{P=0.14}};
\node[B, text=eorange] at (541.7pt,-366.7pt) {RKO};
\node[B, text=epurple] at (650pt,-366.7pt) {RKO-E6};
\node[B, text=epurple] at (540pt,-475pt) {RKO-E6};
\node[B, text=eorange] at (650pt,-475pt) {RKO};
\node[T, text=black!75] at (594pt,-477.5pt) {\textit{P=2.4x10\textsuperscript{-5}}};
\node[T, text=ered, rotate=90] at (363.3pt,-423pt) {3'UTR lengthening};
\node[T, text=elblue, rotate=-90] at (486.7pt,-423pt) {3'UTR shortening};
\node[T, text=ered, rotate=90] at (525pt,-423pt) {intronic pA repression};
\node[T, text=elblue, rotate=-90] at (651.7pt,-421pt) {intronic pA activation};
\end{tikzpicture}
\end{document}
